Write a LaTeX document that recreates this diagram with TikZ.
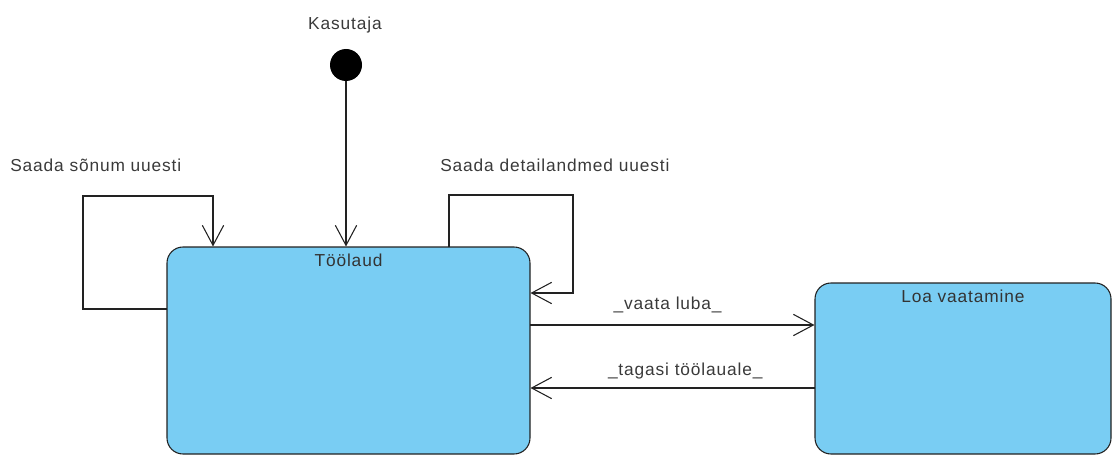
\documentclass[tikz,border=0pt]{standalone}
\usepackage{fontspec}
\setmainfont[LetterSpace=5]{Liberation Sans}
\usetikzlibrary{arrows.meta}
\definecolor{statefill}{HTML}{79CDF3}
\definecolor{edgeline}{HTML}{222222}
\definecolor{labeltext}{HTML}{3A3A3A}
\begin{document}
\begin{tikzpicture}[x=0.75pt,y=-0.75pt,
  every node/.style={font=\fontsize{13}{15}\selectfont, text=labeltext},
  statebox/.style={draw=edgeline, fill=statefill, line width=0.8pt,
    rounded corners=12pt, rectangle, inner sep=0pt},
  statename/.style={anchor=center, inner sep=0pt, text=black!80},
  flow/.style={draw=edgeline, line width=0.8pt,
    -{Straight Barb[length=15pt,width=16pt,line width=0.8pt]}},
  note/.style={inner sep=0pt}]
  \useasboundingbox (0,0) rectangle (1113,456);

  % states
  \node[statebox, minimum width=363*0.75pt, minimum height=207*0.75pt,
        label={[statename, yshift=-10.5pt]north:Töölaud}] (tl) at (348.5,350.5) {};
  \node[statebox, minimum width=296*0.75pt, minimum height=171*0.75pt,
        label={[statename, yshift=-10.5pt]north:Loa vaatamine}] (lv) at (963,368.5) {};

  % initial pseudostate
  \node[circle, fill=black, minimum size=32*0.75pt, inner sep=0pt] (init) at (346,65) {};
  \node[note] (kas) at (345,25) {Kasutaja};
  \draw[flow] (init) -- (init |- tl.north);

  % self transition on the left
  \coordinate (la) at (167,309);
  \coordinate (lb) at (83,196);
  \coordinate (lc) at (213,196);
  \draw[flow] (la) -| (lb) -- (lc) -- (lc |- tl.north);
  \node[note, anchor=west] (lnote) at (10,165) {Saada sõnum uuesti};

  % self transition on the right
  \coordinate (ra) at (449,247);
  \coordinate (rb) at (573,195);
  \coordinate (rc) at (573,293);
  \draw[flow] (ra) |- (rb) -- (rc) -- (rc -| tl.east);
  \node[note, anchor=west] (rnote) at (440,165) {Saada detailandmed uuesti};

  % transitions between the states
  \coordinate (va) at (530,325);
  \draw[flow] (va) -- (va -| lv.west)
    node[note, pos=0.484, yshift=15pt] {\_vaata luba\_};
  \coordinate (ta) at (815,388);
  \draw[flow] (ta) -- (ta -| tl.east)
    node[note, pos=0.456, yshift=12.75pt] {\_tagasi töölauale\_};
\end{tikzpicture}
\end{document}
